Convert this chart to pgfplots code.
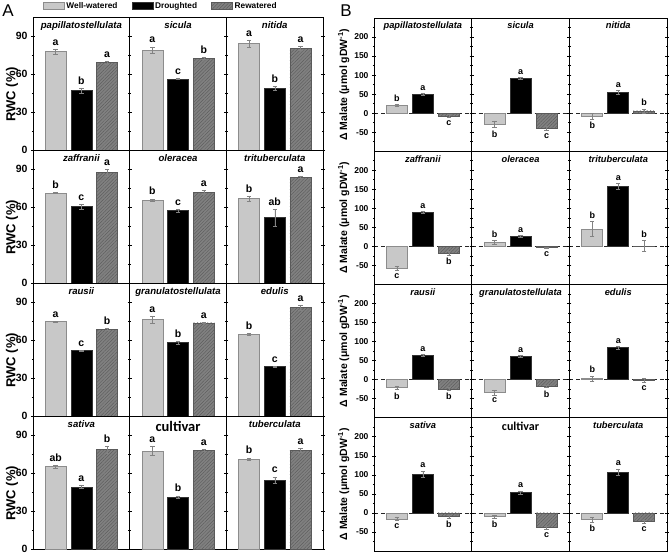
\documentclass[border=0pt]{standalone}
\usepackage{fontspec}
\setmainfont{Liberation Sans}
\newfontfamily\carlito{Carlito}
\usepackage{pgfplots}
\pgfplotsset{compat=1.18}
\usepgfplotslibrary{groupplots}
\usetikzlibrary{patterns.meta}

\definecolor{wwfill}{RGB}{200,200,200}
\definecolor{wwedge}{RGB}{140,140,140}
\definecolor{rwfill}{RGB}{128,128,128}
\definecolor{rwedge}{RGB}{90,90,90}
\definecolor{hatch}{RGB}{85,85,85}
\definecolor{errc}{RGB}{130,130,130}

\pgfplotsset{
  barbase/.style={ybar, bar width=21pt, bar shift=0pt, line width=0.6pt,
    legend image code/.code={\draw[##1] (0pt,-3.5pt) rectangle (21pt,3.5pt);},
    error bars/y dir=both, error bars/y explicit,
    error bars/error bar style={errc, line width=0.45pt},
    error bars/error mark options={rotate=90, mark size=2.2pt, errc, line width=0.45pt}},
  ww/.style={fill=wwfill, draw=wwedge, barbase},
  dr/.style={fill=black, draw=black!80, barbase},
  rw/.style={fill=rwfill, draw=rwedge,
    postaction={pattern color=hatch, pattern={Lines[angle=45,distance=2.4pt,line width=0.3pt]}},
    barbase},
  lab/.style={draw=none, no markers, forget plot, nodes near coords,
    point meta=explicit symbolic,
    visualization depends on={value \thisrow{y} \as \yv},
    every node near coord/.append style={
      /utils/exec={\ifdim\yv pt<0pt\def\myanc{north}\else\def\myanc{south}\fi},
      anchor=\myanc}},
  common/.style={
    scale only axis, clip=false,
    /pgf/number format/assume math mode=true,
    xtick=\empty, xmin=0.12, xmax=3.88,
    axis line style={line width=0.8pt},
    tick style={black, line width=0.6pt}, tick align=center,
    major tick length=4pt, minor tick length=2.5pt,
    every axis title/.style={at={(0.5,1)}, anchor=north},
  },
  panelA/.style={
    width=96.7pt, height=133pt, ymin=0, ymax=105,
    ytick={0,30,60,90}, minor ytick={15,45,75},
    tick label style={font=\bfseries\fontsize{10.5}{12}\selectfont},
    title style={font=\bfseries\itshape\fontsize{9.6}{11}\selectfont, yshift=-1.5pt},
    every axis y label/.style={at={(axis description cs:-0.2165,0.42)}, rotate=90, anchor=center},
    ylabel style={font=\bfseries\fontsize{13}{15}\selectfont},
    ylabel={RWC (\%)},
    every node near coord/.append style={font=\bfseries\fontsize{10.5}{12}\selectfont, inner sep=3.5pt},
  },
  panelB/.style={
    width=97.7pt, height=133.25pt, ymin=-100, ymax=250,
    ytick={-50,0,50,100,150,200}, minor ytick={-75,-25,25,75,125,175,225},
    extra y ticks={0}, extra y tick labels={},
    extra y tick style={grid=major, major grid style={black!85, line width=0.8pt, dash pattern=on 4pt off 3pt}},
    tick label style={font=\bfseries\fontsize{8.5}{10}\selectfont},
    title style={font=\bfseries\itshape\fontsize{9.3}{11}\selectfont, yshift=-0.5pt},
    every axis y label/.style={at={(axis description cs:-0.31,0.5)}, rotate=90, anchor=center},
    ylabel style={font=\bfseries\fontsize{10.5}{12}\selectfont},
    ylabel={Δ Malate (μmol gDW\textsuperscript{-1})},
    every node near coord/.append style={font=\bfseries\fontsize{9}{10}\selectfont, inner sep=3pt},
  },
}

% one cell: WW value, error, letter; Droughted ...; Rewatered ...
\newcommand{\bars}[9]{%
  \addplot[ww] coordinates {(1,#1) +- (0,#2)};
  \addplot[dr] coordinates {(2,#4) +- (0,#5)};
  \addplot[rw] coordinates {(3,#7) +- (0,#8)};
  \addplot[lab] table[row sep=\\, meta=l,
    y expr={\thisrow{y}<0 ? \thisrow{y}-\thisrow{e} : \thisrow{y}+\thisrow{e}}]
    {x y e l\\ 1 #1 #2 #3\\ 2 #4 #5 #6\\ 3 #7 #8 #9\\};
}

\begin{document}
\begin{tikzpicture}
\useasboundingbox (0pt,0pt) rectangle (669pt,554pt);
\node[font=\fontsize{17}{20}\selectfont] at (8pt,543pt) {A};
\node[font=\fontsize{17}{20}\selectfont] at (346pt,543pt) {B};

% ---------- panel A: RWC ----------
\begin{groupplot}[group style={group name=ga, group size=3 by 4, horizontal sep=0pt,
    vertical sep=0pt, y descriptions at=edge left}, common, panelA]
\nextgroupplot[title={papillatostellulata}, at={(33pt,537pt)}, anchor=north west,
  legend columns=3,
  legend style={at={(axis description cs:0.1,1.083)}, anchor=west, draw=none, fill=none,
    inner sep=0pt, font=\bfseries\fontsize{8.3}{9}\selectfont,
    /tikz/every even column/.append style={column sep=12pt}}]
\bars{77.6}{2}{a}{47}{2}{b}{69}{1}{a}
\legend{Well-watered, Droughted, Rewatered}
\nextgroupplot[title={sicula}]
\bars{79}{2.5}{a}{56}{0.3}{c}{72.5}{1}{b}
\nextgroupplot[title={nitida}]
\bars{84}{2.5}{a}{49}{1.5}{b}{80.5}{1.5}{a}
\nextgroupplot[title={zaffranii}]
\bars{71}{0.5}{b}{60.5}{2}{c}{87}{2.5}{a}
\nextgroupplot[title={oleracea}]
\bars{65.5}{1}{b}{57}{1.5}{c}{71.5}{1.5}{a}
\nextgroupplot[title={trituberculata}]
\bars{66.5}{2}{b}{51.5}{6.5}{ab}{83.5}{1}{a}
\nextgroupplot[title={rausii}]
\bars{74.5}{0.5}{a}{51.5}{0.5}{c}{68.5}{0.8}{b}
\nextgroupplot[title={granulatostellulata}]
\bars{76}{2.5}{a}{58}{1}{b}{73.5}{0.5}{a}
\nextgroupplot[title={edulis}]
\bars{64.5}{1}{b}{39}{0.5}{c}{85.5}{2}{a}
\nextgroupplot[title={sativa}]
\bars{65}{1}{ab}{49}{1}{a}{78.5}{2.5}{b}
\nextgroupplot[title={\carlito\upshape\bfseries\fontsize{14.5}{16}\selectfont cultivar}]
\bars{77.5}{3.5}{a}{41}{1}{b}{78}{0.8}{a}
\nextgroupplot[title={tuberculata}]
\bars{71}{1}{b}{54.5}{2.5}{c}{78}{1.5}{a}
\end{groupplot}

% ---------- panel B: malate ----------
\begin{groupplot}[group style={group name=gb, group size=3 by 4, horizontal sep=0pt,
    vertical sep=0pt, y descriptions at=edge left}, common, panelB]
\nextgroupplot[title={papillatostellulata}, at={(374pt,536pt)}, anchor=north west]
\bars{20}{3}{b}{50}{2}{a}{-7}{4}{c}
\nextgroupplot[title={sicula}]
\bars{-29}{9}{b}{91}{3}{a}{-39}{6}{c}
\nextgroupplot[title={nitida}]
\bars{-8}{8}{b}{54}{5}{a}{6}{5}{b}
\nextgroupplot[title={zaffranii}]
\bars{-58}{5}{c}{89}{3}{a}{-17}{5}{b}
\nextgroupplot[title={oleracea}]
\bars{11}{4}{b}{26}{3}{a}{-3}{2}{c}
\nextgroupplot[title={trituberculata}]
\bars{46}{20}{b}{157}{8}{a}{1}{14}{b}
\nextgroupplot[title={rausii}]
\bars{-21}{5}{b}{64}{2}{a}{-24}{3}{b}
\nextgroupplot[title={granulatostellulata}]
\bars{-34}{6}{c}{61}{3}{a}{-17}{3}{b}
\nextgroupplot[title={edulis}]
\bars{2.5}{7}{b}{84}{3}{a}{-2}{5}{c}
\nextgroupplot[title={sativa}]
\bars{-15.5}{5}{c}{102}{8}{a}{-9.5}{4}{b}
\nextgroupplot[title={\carlito\upshape\bfseries\fontsize{12}{14}\selectfont cultivar}]
\bars{-9}{4}{b}{54}{4}{a}{-39}{5}{c}
\nextgroupplot[title={tuberculata}]
\bars{-18}{6}{b}{108}{8}{a}{-23}{4}{c}
\end{groupplot}
\end{tikzpicture}
\end{document}
